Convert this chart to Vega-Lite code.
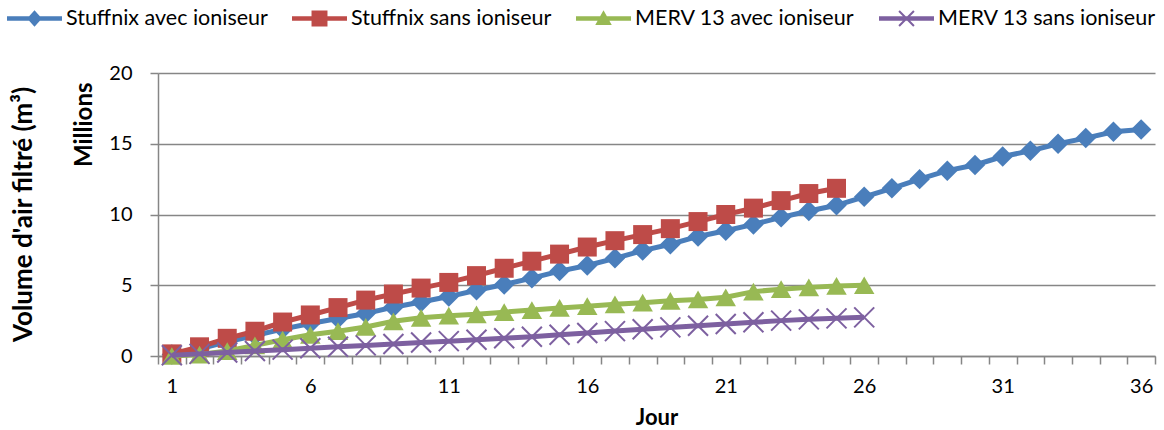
{
  "$schema": "https://vega.github.io/schema/vega-lite/v6.json",
  "width": 997,
  "height": 283,
  "autosize": {"type": "none"},
  "padding": {"left": 158, "top": 73, "right": 9, "bottom": 74},
  "title": {"text": "Volume d'air filtré (m³)", "orient": "left", "anchor": "middle", "frame": "group", "offset": -30, "font": "Lato", "fontSize": 26, "fontWeight": "bold", "color": "black"},
  "data": {"values": [
    {"jour": 1, "Stuffnix avec ioniseur": 0.1, "Stuffnix sans ioniseur": 0.15, "MERV 13 avec ioniseur": 0.0, "MERV 13 sans ioniseur": 0.05},
    {"jour": 2, "Stuffnix avec ioniseur": 0.5, "Stuffnix sans ioniseur": 0.65, "MERV 13 avec ioniseur": 0.1, "MERV 13 sans ioniseur": 0.15},
    {"jour": 3, "Stuffnix avec ioniseur": 1.0, "Stuffnix sans ioniseur": 1.25, "MERV 13 avec ioniseur": 0.35, "MERV 13 sans ioniseur": 0.25},
    {"jour": 4, "Stuffnix avec ioniseur": 1.45, "Stuffnix sans ioniseur": 1.75, "MERV 13 avec ioniseur": 0.75, "MERV 13 sans ioniseur": 0.35},
    {"jour": 5, "Stuffnix avec ioniseur": 1.9, "Stuffnix sans ioniseur": 2.4, "MERV 13 avec ioniseur": 1.15, "MERV 13 sans ioniseur": 0.45},
    {"jour": 6, "Stuffnix avec ioniseur": 2.3, "Stuffnix sans ioniseur": 2.9, "MERV 13 avec ioniseur": 1.5, "MERV 13 sans ioniseur": 0.55},
    {"jour": 7, "Stuffnix avec ioniseur": 2.65, "Stuffnix sans ioniseur": 3.42, "MERV 13 avec ioniseur": 1.75, "MERV 13 sans ioniseur": 0.65},
    {"jour": 8, "Stuffnix avec ioniseur": 3.0, "Stuffnix sans ioniseur": 3.95, "MERV 13 avec ioniseur": 2.05, "MERV 13 sans ioniseur": 0.75},
    {"jour": 9, "Stuffnix avec ioniseur": 3.45, "Stuffnix sans ioniseur": 4.38, "MERV 13 avec ioniseur": 2.45, "MERV 13 sans ioniseur": 0.85},
    {"jour": 10, "Stuffnix avec ioniseur": 3.82, "Stuffnix sans ioniseur": 4.8, "MERV 13 avec ioniseur": 2.7, "MERV 13 sans ioniseur": 0.95},
    {"jour": 11, "Stuffnix avec ioniseur": 4.2, "Stuffnix sans ioniseur": 5.2, "MERV 13 avec ioniseur": 2.85, "MERV 13 sans ioniseur": 1.05},
    {"jour": 12, "Stuffnix avec ioniseur": 4.65, "Stuffnix sans ioniseur": 5.68, "MERV 13 avec ioniseur": 2.95, "MERV 13 sans ioniseur": 1.15},
    {"jour": 13, "Stuffnix avec ioniseur": 5.05, "Stuffnix sans ioniseur": 6.2, "MERV 13 avec ioniseur": 3.1, "MERV 13 sans ioniseur": 1.25},
    {"jour": 14, "Stuffnix avec ioniseur": 5.5, "Stuffnix sans ioniseur": 6.7, "MERV 13 avec ioniseur": 3.25, "MERV 13 sans ioniseur": 1.36},
    {"jour": 15, "Stuffnix avec ioniseur": 6.0, "Stuffnix sans ioniseur": 7.2, "MERV 13 avec ioniseur": 3.4, "MERV 13 sans ioniseur": 1.5},
    {"jour": 16, "Stuffnix avec ioniseur": 6.4, "Stuffnix sans ioniseur": 7.7, "MERV 13 avec ioniseur": 3.52, "MERV 13 sans ioniseur": 1.63},
    {"jour": 17, "Stuffnix avec ioniseur": 6.9, "Stuffnix sans ioniseur": 8.15, "MERV 13 avec ioniseur": 3.65, "MERV 13 sans ioniseur": 1.76},
    {"jour": 18, "Stuffnix avec ioniseur": 7.45, "Stuffnix sans ioniseur": 8.58, "MERV 13 avec ioniseur": 3.77, "MERV 13 sans ioniseur": 1.89},
    {"jour": 19, "Stuffnix avec ioniseur": 7.9, "Stuffnix sans ioniseur": 9.0, "MERV 13 avec ioniseur": 3.9, "MERV 13 sans ioniseur": 2.02},
    {"jour": 20, "Stuffnix avec ioniseur": 8.45, "Stuffnix sans ioniseur": 9.5, "MERV 13 avec ioniseur": 4.0, "MERV 13 sans ioniseur": 2.14},
    {"jour": 21, "Stuffnix avec ioniseur": 8.85, "Stuffnix sans ioniseur": 10.0, "MERV 13 avec ioniseur": 4.15, "MERV 13 sans ioniseur": 2.26},
    {"jour": 22, "Stuffnix avec ioniseur": 9.3, "Stuffnix sans ioniseur": 10.45, "MERV 13 avec ioniseur": 4.55, "MERV 13 sans ioniseur": 2.38},
    {"jour": 23, "Stuffnix avec ioniseur": 9.8, "Stuffnix sans ioniseur": 10.98, "MERV 13 avec ioniseur": 4.72, "MERV 13 sans ioniseur": 2.5},
    {"jour": 24, "Stuffnix avec ioniseur": 10.25, "Stuffnix sans ioniseur": 11.48, "MERV 13 avec ioniseur": 4.85, "MERV 13 sans ioniseur": 2.59},
    {"jour": 25, "Stuffnix avec ioniseur": 10.65, "Stuffnix sans ioniseur": 11.85, "MERV 13 avec ioniseur": 4.95, "MERV 13 sans ioniseur": 2.66},
    {"jour": 26, "Stuffnix avec ioniseur": 11.25, "MERV 13 avec ioniseur": 5.0, "MERV 13 sans ioniseur": 2.73},
    {"jour": 27, "Stuffnix avec ioniseur": 11.85},
    {"jour": 28, "Stuffnix avec ioniseur": 12.5},
    {"jour": 29, "Stuffnix avec ioniseur": 13.1},
    {"jour": 30, "Stuffnix avec ioniseur": 13.5},
    {"jour": 31, "Stuffnix avec ioniseur": 14.1},
    {"jour": 32, "Stuffnix avec ioniseur": 14.5},
    {"jour": 33, "Stuffnix avec ioniseur": 15.0},
    {"jour": 34, "Stuffnix avec ioniseur": 15.4},
    {"jour": 35, "Stuffnix avec ioniseur": 15.85},
    {"jour": 36, "Stuffnix avec ioniseur": 16.0}
  ]},
  "transform": [
    {"fold": ["Stuffnix avec ioniseur", "Stuffnix sans ioniseur", "MERV 13 avec ioniseur", "MERV 13 sans ioniseur"], "as": ["serie", "volume"]},
    {"filter": "isValid(datum.volume)"}
  ],
  "encoding": {
    "x": {"field": "jour", "type": "quantitative",
      "scale": {"domain": [0.5, 36.5], "nice": false, "zero": false},
      "axis": {"values": [0.5,1.5,2.5,3.5,4.5,5.5,6.5,7.5,8.5,9.5,10.5,11.5,12.5,13.5,14.5,15.5,16.5,17.5,18.5,19.5,20.5,21.5,22.5,23.5,24.5,25.5,26.5,27.5,28.5,29.5,30.5,31.5,32.5,33.5,34.5,35.5,36.5],
        "labelExpr": "(datum.value - 0.5) % 5 === 0 && datum.value < 36 ? format(datum.value + 0.5, 'd') : ''",
        "labelOffset": 13.85, "labelOverlap": false, "labelFlush": false, "labelBound": false,
        "labelPadding": 12, "grid": false, "title": "Jour", "titleFontSize": 22, "titlePadding": 11}},
    "y": {"field": "volume", "type": "quantitative",
      "scale": {"domain": [0, 20], "nice": false},
      "axis": {"values": [0, 5, 10, 15, 20], "grid": true, "title": "Millions", "titleFontSize": 24, "titleAnchor": "end", "titleY": 9, "titlePadding": 12, "labelPadding": 18}}
  },
  "layer": [
    {"transform": [{"filter": "datum.serie === 'Stuffnix avec ioniseur'"}],
     "mark": {"type": "line", "color": "#4A7EBB", "strokeWidth": 5, "point": {"shape": "diamond", "size": 420, "filled": true, "opacity": 1, "color": "#4A7EBB"}}},
    {"transform": [{"filter": "datum.serie === 'Stuffnix sans ioniseur'"}],
     "mark": {"type": "line", "color": "#BE4B48", "strokeWidth": 5, "point": {"shape": "square", "size": 361, "filled": true, "opacity": 1, "color": "#BE4B48"}}},
    {"transform": [{"filter": "datum.serie === 'MERV 13 avec ioniseur'"}],
     "mark": {"type": "line", "color": "#98B954", "strokeWidth": 5, "point": {"shape": "triangle-up", "size": 420, "filled": true, "opacity": 1, "color": "#98B954"}}},
    {"transform": [{"filter": "datum.serie === 'MERV 13 sans ioniseur'"}],
     "mark": {"type": "line", "color": "#7D60A0", "strokeWidth": 5, "point": {"shape": "M-1,-1L1,1M-1,1L1,-1", "size": 400, "filled": false, "strokeWidth": 2, "opacity": 1, "color": "#7D60A0"}}},
    {"mark": {"type": "point", "filled": true, "opacity": 0, "size": 3025, "strokeWidth": 0},
     "encoding": {
       "color": {"field": "serie", "type": "nominal",
         "scale": {"domain": ["Stuffnix avec ioniseur", "Stuffnix sans ioniseur", "MERV 13 avec ioniseur", "MERV 13 sans ioniseur"], "range": ["#4A7EBB", "#BE4B48", "#98B954", "#7D60A0"]},
         "legend": {"title": null, "orient": "none", "legendX": -151, "legendY": -82, "direction": "horizontal", "symbolSize": 3025, "symbolStrokeWidth": 0, "symbolOpacity": 1, "labelOffset": 4, "columnPadding": 24, "labelFont": "Lato", "labelFontSize": 21.5, "labelColor": "black", "labelLimit": 400}},
       "shape": {"field": "serie", "type": "nominal",
         "scale": {"domain": ["Stuffnix avec ioniseur", "Stuffnix sans ioniseur", "MERV 13 avec ioniseur", "MERV 13 sans ioniseur"],
           "range": ["M-1,-0.08H1V0.08H-1Z M0,-0.3L0.27,0L0,0.3L-0.27,0Z",
                     "M-1,-0.08H1V0.08H-1Z M-0.29,-0.29H0.29V0.29H-0.29Z",
                     "M-1,-0.08H1V0.08H-1Z M0,-0.3L0.3,0.24H-0.3Z",
                     "M-1,-0.08H1V0.08H-1Z M-0.244,-0.296L0.296,0.244L0.244,0.296L-0.296,-0.244Z M0.296,-0.244L-0.244,0.296L-0.296,0.244L0.244,-0.296Z"]},
         "legend": {"title": null, "orient": "none", "legendX": -151, "legendY": -82, "direction": "horizontal", "symbolSize": 3025, "symbolStrokeWidth": 0, "symbolOpacity": 1, "labelOffset": 4, "columnPadding": 24, "labelFont": "Lato", "labelFontSize": 21.5, "labelColor": "black", "labelLimit": 400}}
     }}
  ],
  "config": {
    "font": "Lato",
    "view": {"stroke": null},
    "axis": {"labelFont": "Lato", "labelFontSize": 20, "labelColor": "black", "titleFont": "Lato", "titleFontSize": 20, "titleFontWeight": "bold", "titleColor": "black",
      "domainColor": "#868686", "domainWidth": 1.5, "tickColor": "#868686", "tickWidth": 1.5, "tickSize": 8,
      "gridColor": "#868686", "gridWidth": 1.5, "gridOpacity": 1}
  }
}
